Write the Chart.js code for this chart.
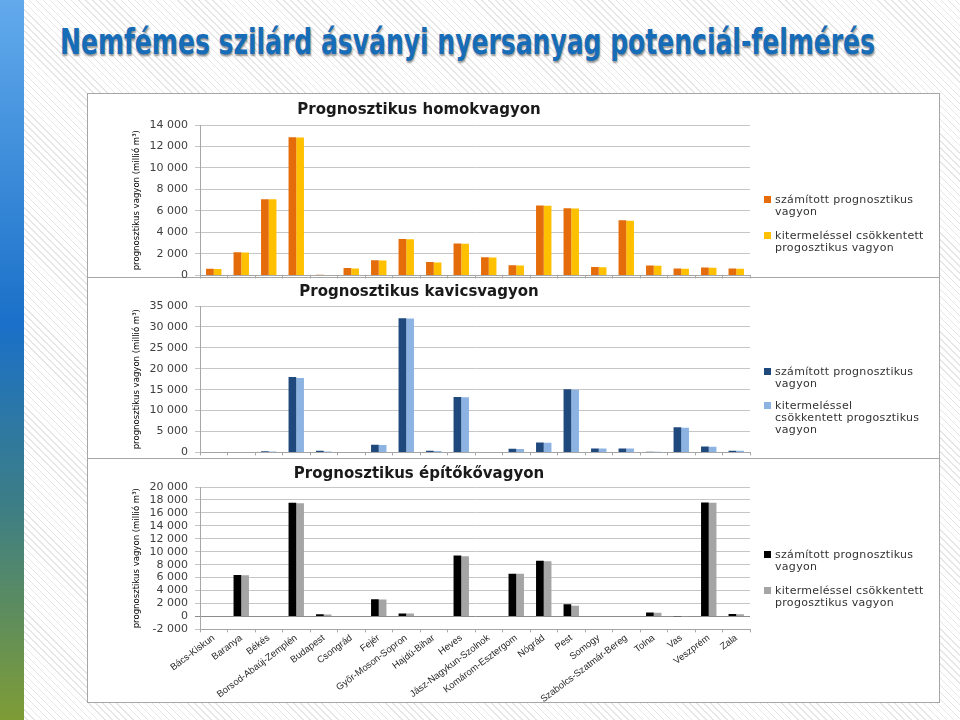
<!DOCTYPE html>
<html>
<head>
<meta charset="utf-8">
<script src="https://cdn.jsdelivr.net/npm/chart.js@4.4.1/dist/chart.umd.min.js"></script>
<style>
  html, body { margin: 0; padding: 0; }
  body {
    width: 960px; height: 720px; position: relative; overflow: hidden;
    background: #fff repeating-linear-gradient(45deg, #fff 0px, #fff 4px, #e6e6e6 4px, #e6e6e6 5px);
    font-family: "DejaVu Sans", sans-serif;
  }
  #sidebar {
    position: absolute; left: 0; top: 0; width: 24px; height: 720px;
    background: linear-gradient(to bottom, #62aaec 0%, #1a70c8 45%, #3c7e86 70%, #7e9c36 100%);
  }
  #mainTitle {
    position: absolute; left: 60px; top: 22px; white-space: nowrap;
    font-family: "DejaVu Sans Condensed", "Liberation Sans", sans-serif;
    font-weight: bold; font-size: 35px; color: #176cb8;
    text-shadow: 1px 2px 2px rgba(0, 0, 0, 0.4);
    transform-origin: left top;
  }
  .panel {
    position: absolute; left: 87px; width: 851px; background: #fff;
    border: 1px solid #a6a6a6;
  }
  canvas { position: absolute; left: 88px; }
  .legend { position: absolute; font-size: 11px; color: #333; line-height: 12px; letter-spacing: 0.3px; }
  .legend .sw { position: absolute; left: -11px; top: 2px; width: 7px; height: 7px; }
</style>
</head>
<body>
<div id="sidebar"></div>
<div id="mainTitle">Nemfémes szilárd ásványi nyersanyag potenciál-felmérés</div>

<div class="panel" style="top:93px;height:183px"></div>
<div class="panel" style="top:277px;height:180px"></div>
<div class="panel" style="top:458px;height:243px"></div>

<canvas id="homok" width="850" height="195" style="top:94px"></canvas>
<canvas id="kavics" width="850" height="188" style="top:278px"></canvas>
<canvas id="epitoko" width="850" height="246" style="top:459px"></canvas>

<div id="legends"></div>

<script>
const counties = ["Bács-Kiskun", "Baranya", "Békés", "Borsod-Abaúj-Zemplén", "Budapest", "Csongrád",
  "Fejér", "Győr-Moson-Sopron", "Hajdú-Bihar", "Heves", "Jász-Nagykun-Szolnok", "Komárom-Esztergom",
  "Nógrád", "Pest", "Somogy", "Szabolcs-Szatmár-Bereg", "Tolna", "Vas", "Veszprém", "Zala"];

const seriesNames = ["számított prognosztikus vagyon", "kitermeléssel csökkentett progosztikus vagyon"];

// homok (millió m3)
const homokSzamitott = [620, 2150, 7100, 12850, 50, 680, 1400, 3380, 1250, 2970, 1680, 950, 6500, 6250, 780, 5130, 920, 640, 730, 640];
const homokCsokkentett = [600, 2130, 7080, 12830, 40, 650, 1380, 3360, 1200, 2950, 1660, 930, 6480, 6230, 760, 5080, 900, 630, 720, 630];

// kavics
const kavicsSzamitott = [100, 120, 250, 18050, 400, 0, 1800, 32100, 400, 13250, 0, 850, 2350, 15100, 950, 950, 150, 6000, 1400, 400];
const kavicsCsokkentett = [80, 100, 200, 17800, 200, 0, 1780, 32000, 350, 13200, 0, 830, 2330, 15000, 930, 930, 130, 5900, 1380, 380];

// építőkő
const epitokoSzamitott = [0, 6400, 0, 17570, 330, 0, 2650, 450, 0, 9400, 0, 6600, 8620, 1860, 0, 60, 620, 40, 17620, 360];
const epitokoCsokkentett = [0, 6350, 0, 17470, 300, 0, 2620, 430, 0, 9300, 0, 6580, 8520, 1650, 0, 50, 580, 30, 17580, 340];

const homokColors = ["#e46c0a", "#ffc000"];
const kavicsColors = ["#1f497d", "#8db3e2"];
const epitokoColors = ["#000000", "#a5a5a5"];

// squeeze the slide title to the width it has in the original
const mt = document.getElementById("mainTitle");
mt.style.transform = "scaleX(" + (815 / mt.getBoundingClientRect().width) + ")";

function fmt(v) {
  return String(v).replace(/\B(?=(\d{3})+(?!\d))/g, " ");
}

function makeChart(id, title, a, b, colors, yMin, yMax, step, titlePad, showLabels) {
  const cfg = {
    type: "bar",
    data: {
      labels: counties,
      datasets: [
        { label: seriesNames[0], data: a, backgroundColor: colors[0] },
        { label: seriesNames[1], data: b, backgroundColor: colors[1] },
      ],
    },
    options: {
      responsive: false,
      animation: false,
      layout: { padding: { left: 0, right: 188, top: 0, bottom: 0 } },
      datasets: { bar: { categoryPercentage: 0.56, barPercentage: 1.0 } },
      plugins: {
        legend: { display: false },
        tooltip: { enabled: false },
        title: {
          display: true,
          text: title,
          color: "#1a1a1a",
          font: { family: "DejaVu Sans", size: 15, weight: "bold" },
          padding: titlePad,
        },
      },
      scales: {
        x: {
          grid: { display: true, drawOnChartArea: false, drawTicks: true, tickLength: 3, color: "#a6a6a6" },
          border: { color: "#a6a6a6" },
          ticks: {
            display: showLabels,
            autoSkip: false,
            minRotation: 37,
            maxRotation: 37,
            color: "#262626",
            font: { family: "Liberation Sans", size: 9.5 },
            padding: 0,
          },
        },
        y: {
          min: yMin,
          max: yMax,
          ticks: {
            stepSize: step,
            autoSkip: false,
            color: "#404040",
            font: { family: "DejaVu Sans", size: 11 },
            padding: 7,
            callback: (v) => fmt(v),
          },
          grid: {
            color: (ctx) => (ctx.tick && ctx.tick.value === 0 && yMin < 0 ? "#8c8c8c" : "#c6c6c6"),
            tickLength: 5,
          },
          border: { color: "#a6a6a6" },
          title: {
            display: true,
            text: "prognosztikus vagyon (millió m³)",
            color: "#000",
            font: { family: "'DejaVu Sans Condensed', 'Liberation Sans', sans-serif", size: 9.5 },
            padding: { top: 43, bottom: 0 },
          },
          afterFit: (scale) => { scale.width = 112; },
        },
      },
    },
  };
  return new Chart(document.getElementById(id), cfg);
}

makeChart("homok", "Prognosztikus homokvagyon", homokSzamitott, homokCsokkentett, homokColors,
  0, 14000, 2000, { top: 7, bottom: 6 }, false);
makeChart("kavics", "Prognosztikus kavicsvagyon", kavicsSzamitott, kavicsCsokkentett, kavicsColors,
  0, 35000, 5000, { top: 5, bottom: 5 }, false);
makeChart("epitoko", "Prognosztikus építőkővagyon", epitokoSzamitott, epitokoCsokkentett, epitokoColors,
  -2000, 20000, 2000, { top: 6, bottom: 4 }, true);

// legends on the right (lines split the way the original wraps them)
const legendSpecs = [
  { colors: homokColors, top: 194, items: [[ "számított prognosztikus", "vagyon" ], [ "kitermeléssel csökkentett", "progosztikus vagyon" ]], gap: 12 },
  { colors: kavicsColors, top: 366, items: [[ "számított prognosztikus", "vagyon" ], [ "kitermeléssel", "csökkentett progosztikus", "vagyon" ]], gap: 10 },
  { colors: epitokoColors, top: 549, items: [[ "számított prognosztikus", "vagyon" ], [ "kitermeléssel csökkentett", "progosztikus vagyon" ]], gap: 12 },
];
const legendsEl = document.getElementById("legends");
for (const spec of legendSpecs) {
  let y = spec.top;
  spec.items.forEach((lines, i) => {
    const div = document.createElement("div");
    div.className = "legend";
    div.style.left = "775px";
    div.style.top = y + "px";
    const sw = document.createElement("span");
    sw.className = "sw";
    sw.style.background = spec.colors[i];
    div.appendChild(sw);
    div.appendChild(document.createTextNode(lines[0]));
    for (let k = 1; k < lines.length; k++) {
      div.appendChild(document.createElement("br"));
      div.appendChild(document.createTextNode(lines[k]));
    }
    legendsEl.appendChild(div);
    y += lines.length * 12 + spec.gap;
  });
}
</script>
</body>
</html>
